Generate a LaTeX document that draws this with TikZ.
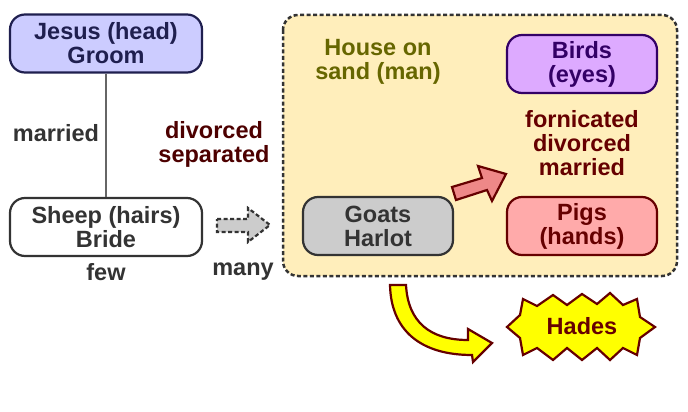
\documentclass[tikz,border=0pt]{standalone}
\usepackage{fontspec}
\setmainfont{Liberation Sans}
\definecolor{jfill}{HTML}{CCCCFF}
\definecolor{jdraw}{HTML}{1F1F4F}
\definecolor{darkgray}{HTML}{333333}
\definecolor{midgray}{HTML}{666666}
\definecolor{gfill}{HTML}{CCCCCC}
\definecolor{bfill}{HTML}{DDAAFF}
\definecolor{bdraw}{HTML}{330066}
\definecolor{pfill}{HTML}{FFAAAA}
\definecolor{maroon}{HTML}{660000}
\definecolor{divc}{HTML}{4D0000}
\definecolor{housefill}{HTML}{FFEEBB}
\definecolor{olive}{HTML}{666600}
\definecolor{afill}{HTML}{EE8888}
\definecolor{yel}{HTML}{FFFF00}
\begin{document}
\begin{tikzpicture}[x=1pt,y=-1pt,
  font=\fontsize{23.5}{24}\selectfont\bfseries,
  box/.style={draw, rounded corners=15pt, line width=2.2pt, align=center, inner sep=0pt, minimum height=58pt},
  lbl/.style={align=center, inner sep=0pt},
  blockarrow/.style={line width=2.2pt, line join=miter}]
\useasboundingbox (0,0) rectangle (688,412);
\fill[white] (0,0) rectangle (688,412);
% group box
\draw[fill=housefill, draw=darkgray, line width=2.5pt, dash pattern=on 4pt off 2.5pt, rounded corners=15pt] (283,15) rectangle (677,276);
% nodes
\node[box, fill=jfill, draw=jdraw, text=jdraw, minimum width=192pt] (jesus) at (106,43.5) {Jesus (head)\\Groom};
\node[box, fill=white, draw=darkgray, text=darkgray, minimum width=192pt] (sheep) at (106,227) {Sheep (hairs)\\Bride};
\node[box, fill=bfill, draw=bdraw, text=bdraw, minimum width=150pt] (birds) at (582,64) {Birds\\(eyes)};
\node[box, fill=pfill, draw=maroon, text=maroon, minimum width=150pt] (pigs) at (582,226) {Pigs\\(hands)};
\node[box, fill=gfill, draw=darkgray, text=darkgray, minimum width=150pt] (goats) at (378,226) {Goats\\Harlot};
\draw[midgray, line width=2pt] (jesus) -- (sheep);
% labels
\node[lbl, text=darkgray] (married) at (56,133) {married};
\node[lbl, text=divc] (divorced) at (214,144) {divorced\\separated};
\node[lbl, text=darkgray] (few) at (106,272) {few};
\node[lbl, text=darkgray] (many) at (243,272) {many};
\node[lbl, text=olive] (house) at (378,62) {House on\\sand (man)};
\node[lbl, text=maroon] (forn) at (582,143) {fornicated\\divorced\\married};
% dashed grey arrow
\draw[blockarrow, fill=gfill, draw=darkgray, dash pattern=on 4pt off 2.5pt]
  (217,219) -- (248,219) -- (248,208) -- (270,225) -- (248,242) -- (248,232) -- (217,232) -- cycle;
% red arrow
\draw[blockarrow, fill=afill, draw=maroon]
  (452,187) -- (482,178) -- (478,166) -- (506,174) -- (492,201) -- (487,190) -- (456,200) -- cycle;
% curved yellow arrow
\draw[blockarrow, fill=yel, draw=maroon]
  (390,285) -- (406,285) .. controls (408,322) and (430,340) .. (468,340)
  -- (468,329) -- (492,343) -- (473,362) -- (472,355)
  .. controls (420,355) and (391,330) .. (390,285) -- cycle;
% Hades starburst
\draw[blockarrow, fill=yel, draw=maroon]
  (523,299) -- (537,306) -- (553,295) -- (567,305) -- (582,294) -- (597,304) -- (610,293) -- (623,305) -- (637,299)
  -- (640,317) -- (655,327) -- (640,338) -- (637,355)
  -- (623,348) -- (610,360) -- (597,348) -- (582,360) -- (567,348) -- (553,360) -- (537,348) -- (523,355)
  -- (520,338) -- (507,327) -- (520,315) -- cycle;
\node[lbl, text=maroon] (hades) at (582,326) {Hades};
\end{tikzpicture}
\end{document}
